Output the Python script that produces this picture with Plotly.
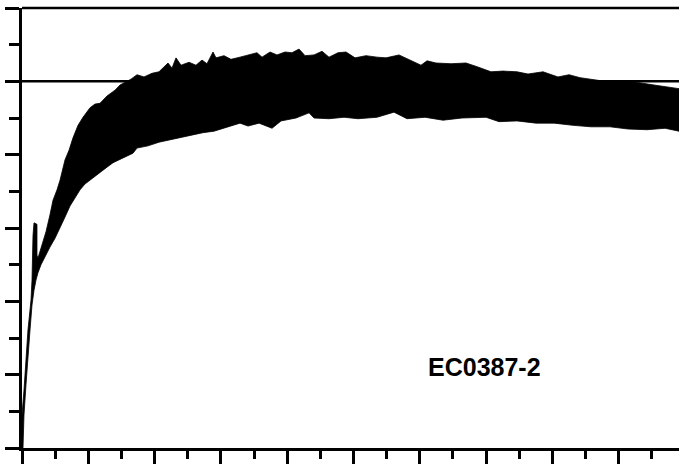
import plotly.graph_objects as go

# Upper / left edge of the oscillation band (time s, value)
upper_x = [0, 0, 3.0, 6.0, 9.0, 13.6, 15.1, 16.6, 18.1, 22.6, 22.6, 24.1, 30.2, 36.2, 42.2, 46.8,
           52.8, 57.3, 64.9, 70.9, 76.9, 84.5, 92.0, 102.6, 110.1,
           117.6, 128.2, 140.3, 147.8, 164.4, 173.5, 184.0, 196.1, 206.6, 220.2, 226.2, 232.3,
           239.8, 251.9, 262.4, 271.5, 279.0, 288.1, 292.6, 304.7, 315.2, 328.8, 340.9, 354.4,
           362.0, 374.1, 384.6, 396.7, 407.2, 417.8, 426.9, 440.4, 452.5, 463.0, 476.6, 488.7,
           502.3, 518.9, 535.4, 549.0, 568.6, 585.2, 601.8, 610.9, 624.4, 647.1, 669.7, 686.3,
           707.4, 725.5, 746.6, 763.2, 785.8, 808.4, 825.0, 841.6, 864.3, 886.9, 908.0, 924.6,
           953.2, 975.9, 990.9]
upper_y = [0, 4.5, 7.9, 12.0, 16.1, 20.2, 22.9, 29.0, 30.7, 30.5, 26.3, 25.9, 27.7, 29.5, 31.8, 33.8,
           35.2, 36.5, 39.3, 40.6, 42.3, 44.0, 45.1, 46.4, 46.9,
           47.0, 48.0, 48.8, 49.5, 50.3, 50.9, 50.6, 51.1, 51.3, 52.5, 51.8, 53.2,
           52.2, 52.6, 52.2, 52.9, 52.4, 54.0, 53.2, 53.5, 53.0, 53.3, 53.6, 53.9,
           53.3, 54.0, 53.6, 54.0, 53.9, 54.4, 53.5, 53.6, 54.1, 53.3, 53.9, 54.0,
           53.2, 53.5, 53.3, 53.2, 53.6, 52.9, 52.2, 52.8, 52.5, 52.4, 52.5, 52.0,
           51.3, 51.4, 51.3, 51.0, 51.3, 50.6, 50.9, 50.5, 50.2, 49.9, 50.0, 49.9,
           49.5, 49.2, 49.0]

# Lower / right edge of the oscillation band
lower_x = [1.5, 3.0, 6.0, 9.0, 12.1, 15.1, 18.1, 21.1, 24.1, 28.7, 34.7, 42.2, 49.8, 57.3, 64.9,
           72.4, 79.9, 87.5, 95.0, 102.6, 110.1, 117.6, 128.2, 137.3, 147.8, 158.4, 167.4,
           173.5, 190.0, 206.6, 223.2, 239.8, 256.4, 273.0, 289.6, 312.2, 328.8, 340.9, 357.5,
           377.1, 390.7, 413.3, 432.9, 440.4, 463.0, 485.7, 506.8, 535.4, 561.1, 580.7, 607.8,
           635.0, 663.7, 699.9, 719.5, 746.6, 775.3, 802.4, 831.1, 858.2, 886.9, 914.0, 942.7,
           969.8, 990.9]
lower_y = [0, 4.5, 8.6, 12.7, 16.1, 19.5, 21.5, 22.9, 23.9, 25.0, 26.0, 27.4, 28.6, 30.0, 31.5,
           33.0, 34.1, 35.2, 36.0, 36.5, 37.1, 37.6, 38.3, 38.9, 39.4, 39.8, 40.2,
           40.9, 41.2, 41.7, 42.1, 42.4, 42.7, 43.0, 43.2, 43.8, 44.3, 43.9, 44.3,
           43.6, 44.6, 45.0, 45.7, 45.0, 44.9, 45.1, 44.9, 45.1, 45.8, 44.9, 45.1,
           44.7, 45.0, 45.1, 44.5, 44.6, 44.3, 44.3, 44.0, 43.8, 43.8, 43.5, 43.4,
           43.6, 43.2]

ref_level = 50
label_text = "EC0387-2"

poly_x = upper_x + lower_x[::-1]
poly_y = upper_y + lower_y[::-1]

fig = go.Figure()
fig.add_trace(go.Scatter(x=poly_x, y=poly_y, mode="lines", fill="toself",
                         fillcolor="black", line=dict(color="black", width=0.8),
                         hoverinfo="skip", showlegend=False))

# reference level line
fig.add_shape(type="line", xref="paper", x0=0, x1=1, yref="y", y0=ref_level, y1=ref_level,
              line=dict(color="black", width=2.5), layer="below")
# top frame line (unclipped)
fig.add_shape(type="line", xref="paper", x0=0, x1=1, yref="paper", y0=1, y1=1,
              line=dict(color="black", width=2.5), layer="above")

fig.add_annotation(text=label_text, xref="paper", yref="paper", x=0.704, y=0.185,
                   xanchor="center", yanchor="middle", showarrow=False,
                   font=dict(family="Liberation Sans", size=25, color="black", weight="bold"))

fig.update_layout(
    width=679, height=464,
    margin=dict(l=22, r=0, t=8, b=16),
    paper_bgcolor="white", plot_bgcolor="white",
    xaxis=dict(range=[0, 990.9], dtick=100, tick0=0, ticks="outside", ticklen=15,
               tickwidth=2.5, tickcolor="black", showticklabels=False, showgrid=False,
               zeroline=False, showline=True, linecolor="black", linewidth=2.5,
               minor=dict(dtick=50, ticks="outside", ticklen=8, tickwidth=2.5,
                          tickcolor="black", showgrid=False)),
    yaxis=dict(range=[0, 60], dtick=10, tick0=0, ticks="outside", ticklen=14,
               tickwidth=2.5, tickcolor="black", showticklabels=False, showgrid=False,
               zeroline=False, showline=True, linecolor="black", linewidth=2.5,
               minor=dict(dtick=5, ticks="outside", ticklen=10, tickwidth=2.5,
                          tickcolor="black", showgrid=False)),
)

fig.write_html("out.html")
